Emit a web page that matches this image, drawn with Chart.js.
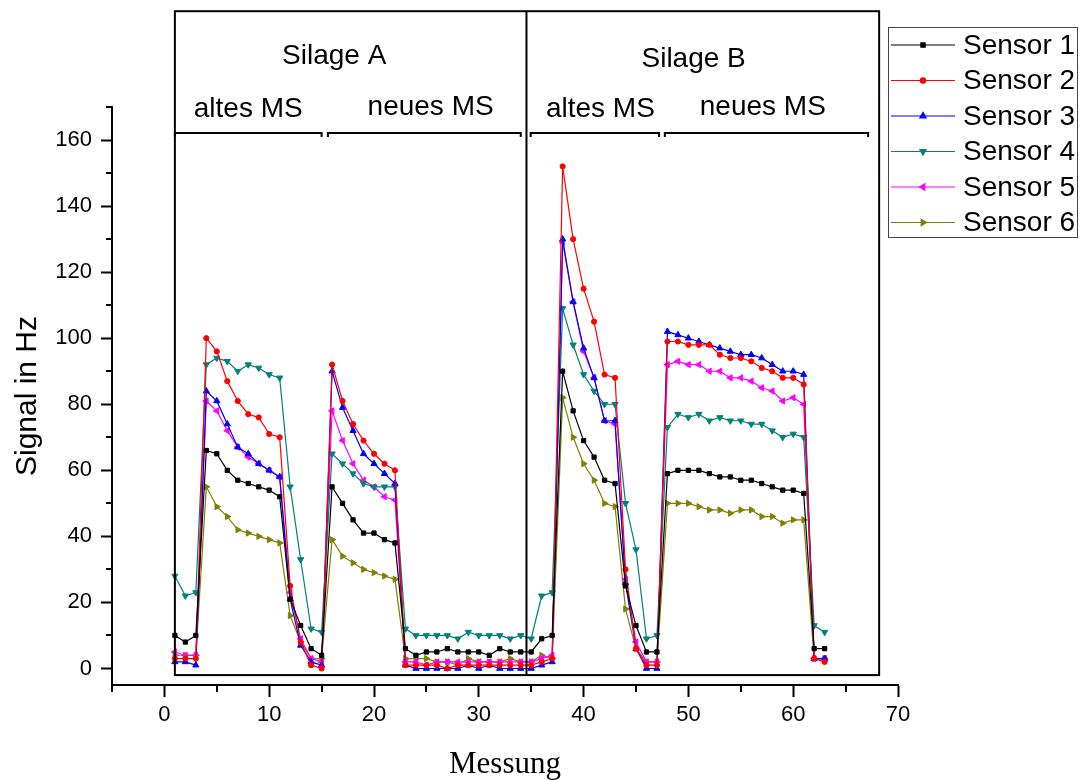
<!DOCTYPE html>
<html>
<head>
<meta charset="utf-8">
<script src="https://cdn.jsdelivr.net/npm/chart.js@4.4.0/dist/chart.umd.min.js"></script>
<style>
  html, body { margin: 0; padding: 0; background: #fff; }
</style>
</head>
<body>
<canvas id="chart" width="1080" height="780"></canvas>
<script>
const measurement = [1, 2, 3, 4, 5, 6, 7, 8, 9, 10, 11, 12, 13, 14, 15, 16, 17, 18, 19, 20, 21,
  22, 23, 24, 25, 26, 27, 28, 29, 30, 31, 32, 33, 34, 35, 36, 37, 38, 39, 40, 41, 42,
  43, 44, 45, 46, 47, 48, 49, 50, 51, 52, 53, 54, 55, 56, 57, 58, 59, 60, 61, 62, 63];

const sensor1 = [10, 8, 10, 66, 65, 60, 57, 56, 55, 54, 52, 21, 13, 6, 4,
  55, 50, 45, 41, 41, 39, 38, 6, 4, 5, 5, 6, 5, 5, 5, 4, 6, 5, 5, 5, 9, 10,
  90, 78, 69, 64, 57, 56, 25, 13, 5, 5,
  59, 60, 60, 60, 59, 58, 58, 57, 57, 56, 55, 54, 54, 53, 6, 6];
const sensor2 = [3, 3, 3, 100, 96, 87, 81, 77, 76, 71, 70, 25, 8, 1, 0,
  92, 81, 74, 69, 65, 62, 60, 1, 1, 1, 1, 0, 1, 1, 1, 1, 1, 1, 1, 1, 2, 3,
  152, 130, 115, 105, 89, 88, 30, 6, 1, 1,
  99, 99, 98, 98, 98, 95, 94, 94, 93, 91, 90, 88, 88, 86, 3, 2];
const sensor3 = [2, 2, 1, 84, 81, 74, 67, 65, 62, 60, 58, 21, 7, 2, 1,
  90, 79, 72, 65, 62, 59, 56, 1, 0, 0, 0, 0, 0, 1, 0, 1, 0, 0, 0, 0, 1, 2,
  130, 111, 97, 88, 75, 75, 26, 6, 0, 0,
  102, 101, 100, 99, 98, 97, 96, 95, 95, 94, 92, 90, 90, 89, 3, 3];
const sensor4 = [28, 22, 23, 92, 94, 93, 90, 92, 91, 89, 88, 55, 33, 12, 11,
  65, 62, 59, 56, 55, 55, 55, 12, 10, 10, 10, 10, 9, 11, 10, 10, 10, 9, 10, 9, 22, 23,
  109, 98, 89, 84, 80, 80, 50, 36, 9, 10,
  73, 77, 76, 77, 75, 76, 75, 75, 74, 74, 72, 70, 71, 70, 13, 11];
const sensor5 = [5, 4, 4, 81, 78, 72, 67, 64, 62, 60, 58, 23, 9, 3, 2,
  78, 69, 62, 57, 55, 52, 51, 2, 2, 1, 2, 2, 2, 2, 2, 2, 2, 2, 2, 2, 3, 4,
  129, 111, 96, 88, 75, 74, 27, 8, 2, 2,
  92, 93, 92, 92, 90, 90, 88, 88, 87, 85, 84, 81, 82, 80, 3, 3];
const sensor6 = [4, 4, 4, 55, 49, 46, 42, 41, 40, 39, 38, 16, 8, 3, 3,
  39, 34, 32, 30, 29, 28, 27, 3, 3, 3, 2, 2, 1, 3, 2, 2, 2, 3, 2, 2, 4, 3,
  82, 70, 62, 57, 50, 49, 18, 6, 2, 2,
  50, 50, 50, 49, 48, 48, 47, 48, 48, 46, 46, 44, 45, 45, 3, 3];

const seriesNames = ['Sensor 1', 'Sensor 2', 'Sensor 3', 'Sensor 4', 'Sensor 5', 'Sensor 6'];
const seriesColors = ['#000000', '#ff0000', '#0000ff', '#008080', '#ff00ff', '#808000'];
const seriesStyles = ['rect', 'circle', 'triangle', 'triangle', 'triangle', 'triangle'];
const seriesRotation = [0, 0, 0, 180, -90, 90];

const xTicks = [0, 10, 20, 30, 40, 50, 60, 70];
const xMinor = [-5, 5, 15, 25, 35, 45, 55, 65];
const yTicks = [0, 20, 40, 60, 80, 100, 120, 140, 160];
const yMinor = [10, 30, 50, 70, 90, 110, 130, 150, 170];

// annotation frame, in data units
const frameX = [1, 34.55, 68.2];
const frameY = [-2, 199];
const groupLabels = ['Silage A', 'Silage B'];
const groupX = [16.2, 50.5];
const groupY = [185.3, 184.4];
const phaseLabels = ['altes MS', 'neues MS', 'altes MS', 'neues MS'];
const phaseX = [8.0, 25.4, 41.6, 57.1];
const phaseY = [169.2, 169.8, 169.2, 169.8];
const bracketFrom = [1, 15.6, 34.95, 47.75];
const bracketTo = [15, 34, 47.2, 67.15];
const bracketY = 162;

const allSeries = [sensor1, sensor2, sensor3, sensor4, sensor5, sensor6];
const FONT = "'Liberation Sans', Arial, sans-serif";

const datasets = allSeries.map((vals, i) => ({
  label: seriesNames[i],
  data: vals.map((v, k) => ({ x: measurement[k], y: v })),
  borderColor: seriesColors[i],
  backgroundColor: seriesColors[i],
  borderWidth: 1.2,
  pointStyle: seriesStyles[i],
  pointRotation: seriesRotation[i],
  pointRadius: i === 0 ? 3 : (i === 1 ? 2.6 : 3.6),
  pointBorderWidth: 1,
  tension: 0
}));

const annotate = {
  id: 'annotate',
  afterDraw(chart) {
    const { ctx, scales: { x, y }, chartArea } = chart;
    const px = v => x.getPixelForValue(v);
    const py = v => y.getPixelForValue(v);
    ctx.save();
    ctx.strokeStyle = '#000';
    ctx.lineWidth = 2;

    // minor ticks
    ctx.beginPath();
    yMinor.forEach(v => {
      const yy = Math.round(py(v));
      ctx.moveTo(chartArea.left - 6, yy);
      ctx.lineTo(chartArea.left, yy);
    });
    xMinor.forEach(v => {
      const xx = Math.round(px(v));
      ctx.moveTo(xx, chartArea.bottom);
      ctx.lineTo(xx, chartArea.bottom + 7);
    });
    ctx.stroke();

    // frame around the plot with the divider
    ctx.lineWidth = 2;
    ctx.strokeRect(px(frameX[0]), py(frameY[1]), px(frameX[2]) - px(frameX[0]), py(frameY[0]) - py(frameY[1]));
    ctx.beginPath();
    ctx.moveTo(px(frameX[1]), py(frameY[1]));
    ctx.lineTo(px(frameX[1]), py(frameY[0]));
    ctx.stroke();

    // brackets
    ctx.lineWidth = 2;
    const by = Math.round(py(bracketY));
    bracketFrom.forEach((a, i) => {
      ctx.beginPath();
      ctx.moveTo(px(a), by + 4);
      ctx.lineTo(px(a), by);
      ctx.lineTo(px(bracketTo[i]), by);
      ctx.lineTo(px(bracketTo[i]), by + 4);
      ctx.stroke();
    });

    ctx.fillStyle = '#000';
    ctx.font = '28px ' + FONT;
    ctx.textAlign = 'center';
    ctx.textBaseline = 'middle';
    groupLabels.forEach((t, i) => ctx.fillText(t, px(groupX[i]), py(groupY[i])));
    phaseLabels.forEach((t, i) => ctx.fillText(t, px(phaseX[i]), py(phaseY[i])));

    // legend
    const lx = 888, ly = 27, lw = 189, lh = 210, row = 35.5;
    ctx.fillStyle = '#fff';
    ctx.fillRect(lx, ly, lw, lh);
    ctx.lineWidth = 1;
    ctx.strokeStyle = '#444';
    ctx.strokeRect(lx + 0.5, ly + 0.5, lw, lh);
    ctx.textAlign = 'left';
    seriesNames.forEach((name, i) => {
      const ry = ly + 18 + i * row;
      ctx.strokeStyle = seriesColors[i];
      ctx.fillStyle = seriesColors[i];
      ctx.lineWidth = 1.2;
      ctx.beginPath();
      ctx.moveTo(lx + 3, ry);
      ctx.lineTo(lx + 67, ry);
      ctx.stroke();
      Chart.helpers.drawPoint(ctx, {
        pointStyle: seriesStyles[i],
        rotation: seriesRotation[i],
        radius: datasets[i].pointRadius,
        borderWidth: 1
      }, lx + 35, ry);
      ctx.fillStyle = '#000';
      ctx.fillText(name, lx + 75, ry + 1);
    });
    ctx.restore();
  }
};

new Chart(document.getElementById('chart'), {
  type: 'line',
  data: { datasets: datasets },
  plugins: [annotate],
  options: {
    responsive: false,
    animation: false,
    devicePixelRatio: 1,
    layout: { padding: { left: 0, right: 182, top: 107, bottom: 0 } },
    plugins: {
      legend: { display: false },
      tooltip: { enabled: false }
    },
    scales: {
      x: {
        type: 'linear',
        min: -5,
        max: 70,
        afterFit: s => { s.height = 95; },
        afterBuildTicks: s => { s.ticks = xTicks.map(v => ({ value: v })); },
        grid: { drawOnChartArea: false, drawTicks: true, tickLength: 12, tickColor: '#000', tickWidth: 2 },
        border: { display: true, color: '#000', width: 2 },
        ticks: { autoSkip: false, maxRotation: 0, padding: 5, color: '#000', font: { family: FONT, size: 22 } },
        title: {
          display: true,
          text: 'Messung',
          color: '#000',
          font: { family: "'Liberation Serif', 'Times New Roman', serif", size: 31, lineHeight: 1 },
          padding: { top: 0, bottom: 0 }
        }
      },
      y: {
        min: -5,
        max: 170,
        afterFit: s => { s.width = 112; },
        afterBuildTicks: s => { s.ticks = yTicks.map(v => ({ value: v })); },
        grid: { drawOnChartArea: false, drawTicks: true, tickLength: 11, tickColor: '#000', tickWidth: 2 },
        border: { display: true, color: '#000', width: 2 },
        ticks: { padding: 9, color: '#000', font: { family: FONT, size: 22 } },
        title: {
          display: true,
          text: 'Signal in Hz',
          color: '#000',
          font: { family: FONT, size: 30, lineHeight: 1.1 },
          padding: { top: 11, bottom: 0 }
        }
      }
    }
  }
});
</script>
</body>
</html>
